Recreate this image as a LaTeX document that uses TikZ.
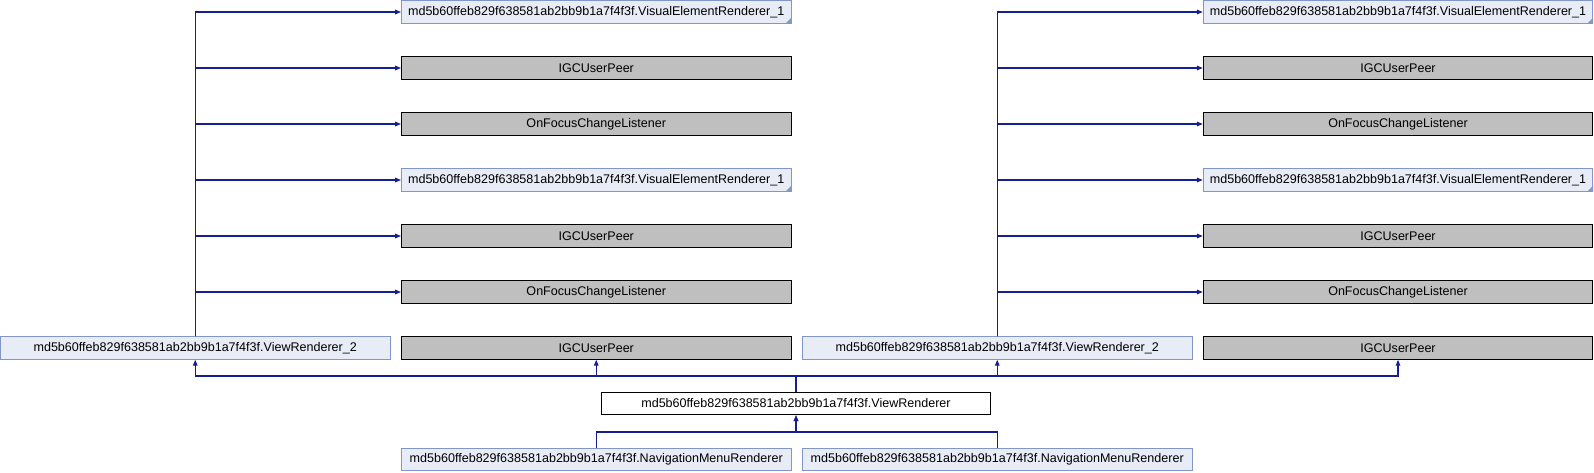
\documentclass[tikz,border=0pt]{standalone}
\usepackage{fontspec}
\setmainfont{Liberation Sans}
\usetikzlibrary{arrows.meta}
\definecolor{edgeblue}{HTML}{141E96}
\definecolor{boxfill}{HTML}{E8ECF6}
\definecolor{boxline}{HTML}{8197C9}
\definecolor{extfill}{HTML}{BFBFBF}
\begin{document}
\begin{tikzpicture}[x=1pt,y=-1pt,
  font=\fontsize{12.55}{14}\selectfont,
  basebox/.style={minimum width=389.5pt, minimum height=22.6pt, inner sep=0pt, line width=0.8pt},
  cls/.style={basebox, draw=boxline, fill=boxfill},
  ext/.style={basebox, draw=black, fill=extfill},
  mainbox/.style={basebox, draw=black, fill=white},
  inh/.style={draw=edgeblue, line width=1.2pt, -{Triangle[length=6pt,width=4.5pt]}},
  fold/.style={fill=boxline}
]
\useasboundingbox (0,0) rectangle (1594,472);
% left group
\node[cls] (a1) at (596.25,12) {md5b60ffeb829f638581ab2bb9b1a7f4f3f.VisualElementRenderer\_1};
\node[ext] (a2) at (596.25,68) {IGCUserPeer};
\node[ext] (a3) at (596.25,124) {OnFocusChangeListener};
\node[cls] (a4) at (596.25,180) {md5b60ffeb829f638581ab2bb9b1a7f4f3f.VisualElementRenderer\_1};
\node[ext] (a5) at (596.25,236) {IGCUserPeer};
\node[ext] (a6) at (596.25,292) {OnFocusChangeListener};
\node[ext] (a7) at (596.25,348) {IGCUserPeer};
\node[cls] (vra) at (195.25,348) {md5b60ffeb829f638581ab2bb9b1a7f4f3f.ViewRenderer\_2};
% right group
\node[cls] (b1) at (1398,12) {md5b60ffeb829f638581ab2bb9b1a7f4f3f.VisualElementRenderer\_1};
\node[ext] (b2) at (1398,68) {IGCUserPeer};
\node[ext] (b3) at (1398,124) {OnFocusChangeListener};
\node[cls] (b4) at (1398,180) {md5b60ffeb829f638581ab2bb9b1a7f4f3f.VisualElementRenderer\_1};
\node[ext] (b5) at (1398,236) {IGCUserPeer};
\node[ext] (b6) at (1398,292) {OnFocusChangeListener};
\node[ext] (b7) at (1398,348) {IGCUserPeer};
\node[cls] (vrb) at (997.25,348) {md5b60ffeb829f638581ab2bb9b1a7f4f3f.ViewRenderer\_2};
% main
\node[mainbox] (vr) at (796,403.5) {md5b60ffeb829f638581ab2bb9b1a7f4f3f.ViewRenderer};
\node[cls] (nl) at (596.25,459.5) {md5b60ffeb829f638581ab2bb9b1a7f4f3f.NavigationMenuRenderer};
\node[cls] (nr) at (997.25,459.5) {md5b60ffeb829f638581ab2bb9b1a7f4f3f.NavigationMenuRenderer};
% fold markers
\foreach \n in {a1,a4,b1,b4}{
  \fill[fold] ([xshift=-6pt]\n.south east) -- (\n.south east) -- ([yshift=6pt]\n.south east) -- cycle;
}
% edges from ViewRenderer_2 to its bases
\foreach \t in {a1,a2,a3,a4,a5,a6}{
  \draw[inh] (vra.north) |- (\t.west);
}
\foreach \t in {b1,b2,b3,b4,b5,b6}{
  \draw[inh] (vrb.north) |- (\t.west);
}
% edges from ViewRenderer to its bases
\coordinate (bus) at (0,376);
\coordinate (navbus) at (0,432);
\foreach \t in {vra,a7,vrb,b7}{
  \draw[inh] (vr.north) -- (vr.north |- bus) -| (\t.south);
}
% edges from navigation renderers
\draw[inh] (nl.north) -- (nl.north |- navbus) -| (vr.south);
\draw[inh] (nr.north) -- (nr.north |- navbus) -| (vr.south);
\end{tikzpicture}
\end{document}
